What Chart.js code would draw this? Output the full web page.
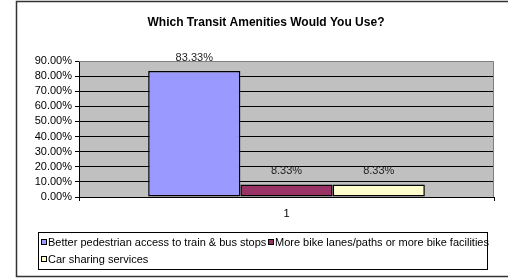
<!DOCTYPE html>
<html>
<head>
<meta charset="utf-8">
<script src="https://cdn.jsdelivr.net/npm/chart.js@4/dist/chart.umd.min.js"></script>
<style>
html,body{margin:0;padding:0;background:#fff;}
#wrap{width:508px;height:278px;position:relative;}
</style>
</head>
<body>
<div id="wrap"><canvas id="c" width="508" height="278"></canvas></div>
<script>
const chartTitle = 'Which Transit Amenities Would You Use?';
const categories = ['1'];
const seriesNames = [
  'Better pedestrian access to train & bus stops',
  'More bike lanes/paths or more bike facilities',
  'Car sharing services'
];
const seriesValues = [[83.33], [8.33], [8.33]];
const seriesColors = ['#9999FF', '#993366', '#FFFFCC'];
const yMax = 90;
const yStep = 10;

const FONT = '"Liberation Sans", Arial, sans-serif';

const decorPlugin = {
  id: 'decor',
  beforeDraw(chart) {
    const {ctx, chartArea: a} = chart;
    ctx.save();
    ctx.fillStyle = '#C0C0C0';
    ctx.fillRect(a.left, a.top, a.right - a.left, a.bottom - a.top);
    ctx.restore();
  },
  afterDraw(chart) {
    const {ctx, chartArea: a} = chart;
    ctx.save();
    ctx.strokeStyle = '#808080';
    ctx.lineWidth = 1;
    ctx.beginPath();
    ctx.moveTo(a.left, a.top + 0.5);
    ctx.lineTo(a.right - 0.5, a.top + 0.5);
    ctx.lineTo(a.right - 0.5, a.bottom);
    ctx.stroke();
    ctx.strokeStyle = '#333';
    ctx.lineWidth = 1.5;
    ctx.strokeRect(16.5, 1.5, 520, 275);
    ctx.fillStyle = '#000';
    ctx.font = 'bold 12px ' + FONT;
    ctx.textAlign = 'center';
    ctx.textBaseline = 'middle';
    ctx.fillText(chartTitle, 266, 23);
    ctx.font = '11px ' + FONT;
    ctx.fillStyle = '#222';
    chart.data.datasets.forEach((ds, i) => {
      const meta = chart.getDatasetMeta(i);
      meta.data.forEach((bar, j) => {
        const v = ds.data[j];
        ctx.fillText(v.toFixed(2) + '%', bar.x, bar.y - 13);
      });
    });
    ctx.strokeStyle = '#000';
    ctx.lineWidth = 1;
    ctx.strokeRect(38.5, 232.5, 449, 37);
    ctx.textAlign = 'left';
    ctx.textBaseline = 'middle';
    const items = [
      {x: 41, y: 242},
      {x: 268, y: 242},
      {x: 41, y: 259}
    ];
    seriesNames.forEach((name, i) => {
      const it = items[i];
      ctx.fillStyle = seriesColors[i];
      ctx.fillRect(it.x, it.y - 3, 6, 6);
      ctx.strokeStyle = '#000';
      ctx.strokeRect(it.x + 0.5, it.y - 2.5, 5, 5);
      ctx.fillStyle = '#000';
      ctx.fillText(name, it.x + 7, it.y + 0.5);
    });
    ctx.restore();
  }
};

new Chart(document.getElementById('c'), {
  type: 'bar',
  data: {
    labels: categories,
    datasets: seriesNames.map((n, i) => ({
      label: n,
      data: seriesValues[i],
      backgroundColor: seriesColors[i],
      borderColor: '#000',
      borderWidth: 1.5,
      borderSkipped: false,
      categoryPercentage: 3 / 4.5,
      barPercentage: 1
    }))
  },
  options: {
    responsive: false,
    animation: false,
    devicePixelRatio: 1,
    layout: {padding: {left: 0, right: 14, top: 61, bottom: 41}},
    plugins: {legend: {display: false}, title: {display: false}, tooltip: {enabled: false}},
    scales: {
      x: {
        afterFit(s) { s.height = 40; },
        grid: {offset: true, drawOnChartArea: false, tickLength: 4, color: '#000'},
        border: {color: '#000', width: 1},
        ticks: {color: '#000', font: {family: FONT, size: 11}, padding: 6}
      },
      y: {
        min: 0, max: yMax,
        afterFit(s) { s.width = 79; },
        grid: {color: (c) => c.tick && c.tick.value === yMax ? 'rgba(0,0,0,0)' : '#000', tickLength: 4, tickColor: '#000'},
        border: {color: '#000', width: 1},
        ticks: {
          stepSize: yStep,
          autoSkip: false,
          color: '#000',
          padding: 3,
          font: {family: FONT, size: 11},
          callback: (v) => v.toFixed(2) + '%'
        }
      }
    }
  },
  plugins: [decorPlugin]
});
</script>
</body>
</html>
